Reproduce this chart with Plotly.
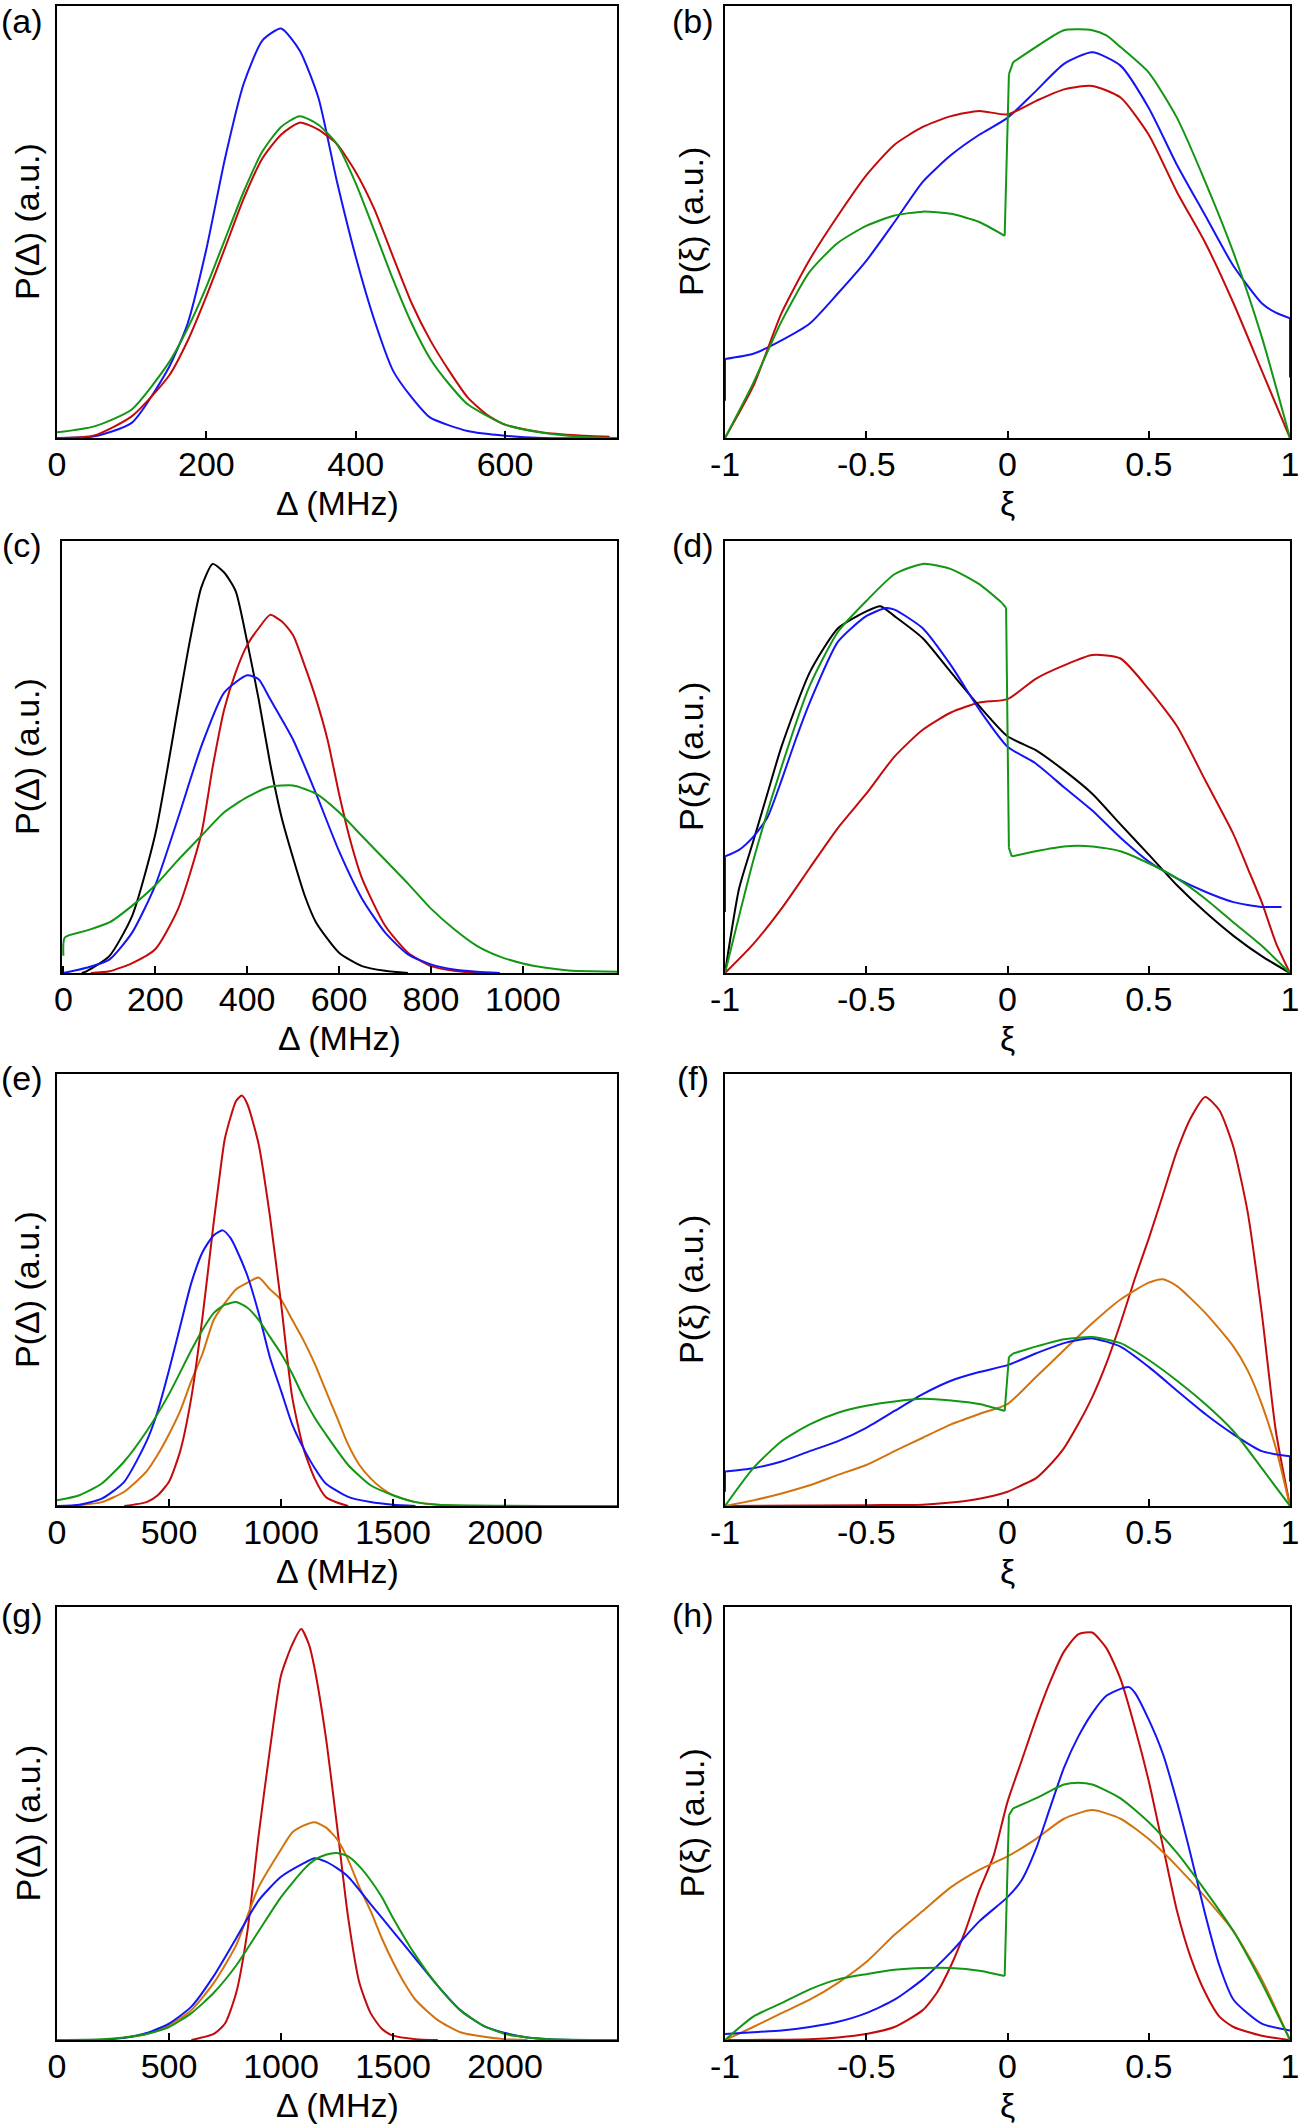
import plotly.graph_objects as go

# ---------------- data (y in arbitrary units, 1 = top of frame) ----------------
# (a) P(Delta)
a_blue_x = [0, 50, 100, 150, 175, 200, 225, 250, 275, 300, 325, 350, 375, 400, 425, 450, 475, 500, 550, 600, 650, 750]
a_blue_y = [0, 0.004, 0.035, 0.164, 0.265, 0.437, 0.647, 0.82, 0.92, 0.948, 0.897, 0.788, 0.593, 0.42, 0.273, 0.156, 0.094, 0.047, 0.016, 0.005, 0, 0]
a_red_x = [0, 50, 100, 150, 175, 200, 225, 250, 275, 300, 325, 350, 375, 400, 425, 450, 475, 500, 525, 550, 575, 600, 650, 700, 740]
a_red_y = [0, 0.006, 0.05, 0.144, 0.225, 0.328, 0.44, 0.554, 0.647, 0.702, 0.73, 0.714, 0.68, 0.616, 0.53, 0.42, 0.312, 0.226, 0.156, 0.094, 0.055, 0.031, 0.013, 0.006, 0.003]
a_green_x = [0, 50, 100, 150, 175, 200, 225, 250, 275, 300, 325, 350, 375, 400, 425, 450, 475, 500, 525, 550, 600, 650, 700, 750]
a_green_y = [0.013, 0.027, 0.066, 0.175, 0.254, 0.35, 0.46, 0.57, 0.663, 0.72, 0.745, 0.725, 0.68, 0.59, 0.48, 0.367, 0.265, 0.183, 0.125, 0.078, 0.031, 0.012, 0.003, 0]

# (b) P(xi)
b_blue_x = [-1, -1, -0.9, -0.8, -0.7, -0.6, -0.5, -0.4, -0.3, -0.2, -0.1, 0, 0.1, 0.2, 0.3, 0.4, 0.5, 0.6, 0.7, 0.8, 0.9, 0.95, 1, 1]
b_blue_y = [0.086, 0.183, 0.195, 0.226, 0.265, 0.335, 0.41, 0.5, 0.593, 0.655, 0.702, 0.741, 0.803, 0.866, 0.893, 0.862, 0.764, 0.632, 0.515, 0.398, 0.312, 0.29, 0.277, 0.14]
b_red_x = [-1, -0.9, -0.8, -0.7, -0.6, -0.5, -0.4, -0.3, -0.2, -0.1, 0, 0.1, 0.2, 0.3, 0.4, 0.5, 0.6, 0.7, 0.8, 0.9, 1]
b_red_y = [0, 0.12, 0.289, 0.413, 0.515, 0.608, 0.679, 0.72, 0.745, 0.757, 0.749, 0.78, 0.807, 0.815, 0.788, 0.702, 0.569, 0.452, 0.312, 0.156, 0]
b_green_x = [-1, -0.9, -0.8, -0.7, -0.6, -0.5, -0.4, -0.3, -0.2, -0.1, -0.01, 0.005, 0.02, 0.1, 0.2, 0.3, 0.35, 0.4, 0.5, 0.6, 0.7, 0.8, 0.9, 1]
b_green_y = [0, 0.127, 0.27, 0.385, 0.452, 0.491, 0.515, 0.524, 0.519, 0.5, 0.468, 0.842, 0.87, 0.905, 0.944, 0.944, 0.932, 0.905, 0.846, 0.741, 0.593, 0.429, 0.234, 0]

# (c) P(Delta)
c_black_x = [40, 50, 100, 150, 200, 250, 275, 300, 325, 350, 375, 400, 425, 450, 475, 500, 525, 550, 600, 650, 700, 750]
c_black_y = [0, 0.004, 0.039, 0.133, 0.321, 0.618, 0.767, 0.892, 0.947, 0.927, 0.884, 0.767, 0.634, 0.485, 0.36, 0.266, 0.18, 0.117, 0.047, 0.016, 0.005, 0]
c_red_x = [60, 100, 150, 200, 250, 300, 325, 350, 375, 400, 425, 450, 475, 500, 525, 550, 575, 600, 625, 650, 700, 750, 800, 850, 900]
c_red_y = [0, 0.004, 0.023, 0.055, 0.149, 0.321, 0.477, 0.61, 0.696, 0.759, 0.798, 0.829, 0.814, 0.782, 0.712, 0.634, 0.54, 0.415, 0.305, 0.219, 0.11, 0.047, 0.016, 0.005, 0]
c_blue_x = [0, 50, 100, 150, 200, 250, 300, 350, 400, 425, 450, 500, 550, 600, 650, 700, 750, 800, 850, 900, 950]
c_blue_y = [0, 0.012, 0.031, 0.094, 0.203, 0.36, 0.524, 0.649, 0.689, 0.68, 0.634, 0.54, 0.415, 0.282, 0.172, 0.094, 0.043, 0.02, 0.008, 0.003, 0]
c_green_x = [0, 3, 50, 100, 150, 200, 250, 300, 350, 400, 450, 500, 550, 600, 650, 700, 750, 800, 850, 900, 950, 1000, 1050, 1100, 1150, 1205]
c_green_y = [0.04, 0.082, 0.098, 0.117, 0.156, 0.203, 0.262, 0.317, 0.372, 0.407, 0.431, 0.434, 0.415, 0.372, 0.317, 0.262, 0.207, 0.149, 0.102, 0.063, 0.038, 0.022, 0.012, 0.006, 0.004, 0.003]

# (d) P(xi)
d_black_x = [-1, -0.95, -0.9, -0.85, -0.8, -0.7, -0.6, -0.5, -0.45, -0.4, -0.3, -0.2, -0.1, 0, 0.1, 0.2, 0.3, 0.4, 0.5, 0.6, 0.7, 0.8, 0.9, 1]
d_black_y = [0, 0.196, 0.305, 0.415, 0.524, 0.696, 0.798, 0.837, 0.849, 0.826, 0.775, 0.696, 0.618, 0.548, 0.516, 0.469, 0.415, 0.344, 0.274, 0.203, 0.141, 0.086, 0.039, 0]
d_red_x = [-1, -0.9, -0.8, -0.7, -0.6, -0.5, -0.4, -0.3, -0.2, -0.1, 0, 0.1, 0.2, 0.3, 0.4, 0.5, 0.6, 0.7, 0.8, 0.85, 0.9, 0.95, 1]
d_red_y = [0, 0.067, 0.149, 0.243, 0.336, 0.415, 0.501, 0.563, 0.603, 0.626, 0.634, 0.681, 0.712, 0.736, 0.728, 0.657, 0.571, 0.446, 0.321, 0.243, 0.164, 0.07, 0]
d_blue_x = [-1, -1, -0.95, -0.9, -0.85, -0.8, -0.75, -0.7, -0.6, -0.5, -0.43, -0.4, -0.3, -0.2, -0.1, 0, 0.1, 0.2, 0.3, 0.4, 0.5, 0.6, 0.7, 0.8, 0.9, 0.97]
d_blue_y = [0.141, 0.27, 0.285, 0.315, 0.36, 0.446, 0.54, 0.626, 0.767, 0.826, 0.845, 0.841, 0.798, 0.712, 0.61, 0.524, 0.485, 0.43, 0.376, 0.313, 0.258, 0.219, 0.188, 0.164, 0.153, 0.153]
d_green_x = [-1, -0.9, -0.8, -0.7, -0.6, -0.5, -0.4, -0.3, -0.2, -0.1, -0.02, -0.005, 0.005, 0.015, 0.1, 0.2, 0.3, 0.4, 0.5, 0.6, 0.7, 0.8, 0.9, 1]
d_green_y = [0, 0.26, 0.477, 0.665, 0.79, 0.861, 0.923, 0.947, 0.935, 0.9, 0.857, 0.845, 0.29, 0.27, 0.282, 0.293, 0.293, 0.282, 0.254, 0.219, 0.172, 0.117, 0.063, 0]

# (e) P(Delta)
e_red_x = [300, 400, 450, 500, 550, 600, 650, 700, 725, 750, 800, 825, 850, 900, 950, 1000, 1050, 1100, 1150, 1200, 1250, 1300]
e_red_y = [0, 0.009, 0.025, 0.056, 0.127, 0.252, 0.439, 0.658, 0.76, 0.852, 0.938, 0.95, 0.93, 0.838, 0.673, 0.47, 0.252, 0.134, 0.064, 0.021, 0.008, 0]
e_blue_x = [0, 100, 200, 300, 400, 450, 500, 550, 600, 650, 700, 740, 775, 800, 850, 900, 950, 1000, 1050, 1100, 1150, 1200, 1300, 1400, 1500, 1600]
e_blue_y = [0, 0.003, 0.017, 0.056, 0.15, 0.22, 0.314, 0.416, 0.517, 0.588, 0.627, 0.638, 0.62, 0.595, 0.533, 0.447, 0.345, 0.267, 0.189, 0.134, 0.088, 0.052, 0.021, 0.009, 0.003, 0]
e_orange_x = [100, 200, 300, 400, 450, 500, 550, 600, 650, 700, 750, 800, 850, 900, 950, 1000, 1050, 1100, 1150, 1200, 1250, 1300, 1350, 1400, 1450, 1500, 1600, 1700, 1800]
e_orange_y = [0.002, 0.009, 0.033, 0.08, 0.119, 0.166, 0.22, 0.29, 0.353, 0.431, 0.47, 0.502, 0.517, 0.529, 0.502, 0.478, 0.431, 0.384, 0.33, 0.267, 0.205, 0.142, 0.095, 0.064, 0.041, 0.025, 0.009, 0.003, 0]
e_green_x = [0, 100, 200, 300, 400, 500, 600, 650, 700, 750, 800, 850, 900, 950, 1000, 1050, 1100, 1150, 1200, 1300, 1400, 1500, 1600, 1700, 2500]
e_green_y = [0.013, 0.025, 0.052, 0.103, 0.173, 0.259, 0.361, 0.408, 0.447, 0.466, 0.472, 0.459, 0.431, 0.392, 0.353, 0.306, 0.252, 0.205, 0.166, 0.095, 0.048, 0.025, 0.009, 0.003, 0]

# (f) P(xi)
f_red_x = [-1, -0.5, -0.3, -0.2, -0.1, 0, 0.05, 0.1, 0.15, 0.2, 0.25, 0.3, 0.35, 0.4, 0.45, 0.5, 0.55, 0.6, 0.65, 0.7, 0.75, 0.8, 0.85, 0.9, 0.95, 1]
f_red_y = [0, 0.002, 0.003, 0.008, 0.017, 0.033, 0.048, 0.064, 0.095, 0.134, 0.189, 0.252, 0.33, 0.423, 0.525, 0.619, 0.72, 0.822, 0.9, 0.947, 0.916, 0.83, 0.681, 0.447, 0.173, 0]
f_orange_x = [-1, -0.9, -0.8, -0.7, -0.6, -0.5, -0.4, -0.3, -0.2, -0.1, 0, 0.1, 0.2, 0.3, 0.4, 0.5, 0.55, 0.6, 0.7, 0.8, 0.85, 0.9, 0.95, 1]
f_orange_y = [0, 0.013, 0.029, 0.048, 0.072, 0.095, 0.127, 0.158, 0.189, 0.213, 0.236, 0.298, 0.361, 0.423, 0.478, 0.517, 0.525, 0.509, 0.447, 0.369, 0.314, 0.236, 0.134, 0]
f_blue_x = [-1, -1, -0.9, -0.8, -0.7, -0.6, -0.5, -0.4, -0.3, -0.2, -0.1, 0, 0.1, 0.2, 0.3, 0.4, 0.5, 0.6, 0.7, 0.8, 0.9, 1, 1]
f_blue_y = [0.033, 0.08, 0.0875, 0.103, 0.127, 0.15, 0.181, 0.22, 0.259, 0.29, 0.31, 0.326, 0.353, 0.377, 0.388, 0.369, 0.322, 0.267, 0.213, 0.166, 0.127, 0.115, 0.056]
f_green_x = [-1, -0.9, -0.8, -0.7, -0.6, -0.5, -0.4, -0.3, -0.2, -0.1, -0.01, 0.005, 0.02, 0.1, 0.2, 0.3, 0.4, 0.5, 0.6, 0.7, 0.8, 0.9, 1]
f_green_y = [0, 0.0875, 0.15, 0.189, 0.216, 0.232, 0.242, 0.248, 0.244, 0.236, 0.22, 0.345, 0.353, 0.369, 0.386, 0.391, 0.377, 0.338, 0.29, 0.236, 0.173, 0.0875, 0]

# (g) P(Delta)
g_red_x = [600, 700, 750, 800, 850, 900, 950, 1000, 1050, 1090, 1125, 1150, 1200, 1250, 1300, 1350, 1400, 1450, 1500, 1600, 1700]
g_red_y = [0, 0.014, 0.038, 0.109, 0.251, 0.472, 0.669, 0.842, 0.913, 0.949, 0.913, 0.858, 0.7, 0.495, 0.282, 0.132, 0.062, 0.026, 0.01, 0.002, 0]
g_orange_x = [300, 400, 500, 600, 700, 800, 900, 1000, 1050, 1100, 1150, 1200, 1250, 1300, 1350, 1400, 1450, 1500, 1550, 1600, 1700, 1800, 1900, 2000, 2100]
g_orange_y = [0.005, 0.014, 0.034, 0.069, 0.132, 0.219, 0.353, 0.44, 0.479, 0.495, 0.503, 0.491, 0.464, 0.416, 0.353, 0.298, 0.235, 0.18, 0.132, 0.093, 0.046, 0.018, 0.008, 0.002, 0]
g_blue_x = [200, 300, 400, 500, 600, 700, 800, 900, 1000, 1100, 1150, 1200, 1250, 1300, 1400, 1500, 1600, 1700, 1800, 1900, 2000, 2100, 2200, 2300]
g_blue_y = [0, 0.005, 0.016, 0.038, 0.077, 0.148, 0.235, 0.322, 0.377, 0.408, 0.42, 0.412, 0.397, 0.377, 0.314, 0.251, 0.188, 0.125, 0.069, 0.034, 0.016, 0.006, 0.002, 0]
g_green_x = [0, 200, 300, 400, 500, 600, 700, 800, 900, 1000, 1100, 1150, 1200, 1250, 1300, 1350, 1400, 1450, 1500, 1600, 1700, 1800, 1900, 2000, 2100, 2200, 2500]
g_green_y = [0, 0.002, 0.006, 0.014, 0.03, 0.062, 0.109, 0.172, 0.251, 0.33, 0.393, 0.416, 0.428, 0.432, 0.424, 0.401, 0.369, 0.33, 0.282, 0.196, 0.125, 0.069, 0.034, 0.014, 0.006, 0.002, 0]

# (h) P(xi)
h_red_x = [-1, -0.7, -0.6, -0.5, -0.4, -0.3, -0.25, -0.2, -0.15, -0.1, -0.05, 0, 0.05, 0.1, 0.15, 0.2, 0.25, 0.3, 0.35, 0.4, 0.45, 0.5, 0.55, 0.6, 0.65, 0.7, 0.75, 0.8, 0.9, 1]
h_red_y = [0, 0.002, 0.006, 0.014, 0.03, 0.069, 0.109, 0.172, 0.251, 0.345, 0.424, 0.55, 0.645, 0.74, 0.826, 0.897, 0.937, 0.941, 0.905, 0.834, 0.724, 0.598, 0.448, 0.298, 0.188, 0.109, 0.054, 0.03, 0.01, 0]
h_blue_x = [-1, -0.9, -0.8, -0.7, -0.6, -0.5, -0.4, -0.3, -0.2, -0.1, 0, 0.05, 0.1, 0.15, 0.2, 0.25, 0.3, 0.35, 0.4, 0.43, 0.45, 0.5, 0.55, 0.6, 0.65, 0.7, 0.75, 0.8, 0.9, 1]
h_blue_y = [0.014, 0.018, 0.022, 0.03, 0.042, 0.062, 0.093, 0.14, 0.203, 0.274, 0.33, 0.369, 0.44, 0.535, 0.629, 0.7, 0.755, 0.795, 0.811, 0.815, 0.803, 0.74, 0.661, 0.55, 0.424, 0.29, 0.172, 0.093, 0.038, 0.022]
h_orange_x = [-1, -0.9, -0.8, -0.7, -0.6, -0.5, -0.4, -0.3, -0.2, -0.1, 0, 0.1, 0.2, 0.3, 0.4, 0.5, 0.6, 0.7, 0.8, 0.9, 1]
h_orange_y = [0, 0.03, 0.062, 0.093, 0.132, 0.18, 0.243, 0.298, 0.353, 0.393, 0.424, 0.464, 0.511, 0.531, 0.511, 0.464, 0.401, 0.33, 0.251, 0.14, 0]
h_green_x = [-1, -0.9, -0.8, -0.7, -0.6, -0.5, -0.4, -0.3, -0.2, -0.1, -0.01, 0.005, 0.02, 0.1, 0.2, 0.25, 0.3, 0.4, 0.5, 0.6, 0.7, 0.8, 0.9, 1]
h_green_y = [0, 0.054, 0.085, 0.117, 0.14, 0.152, 0.162, 0.166, 0.166, 0.16, 0.148, 0.519, 0.535, 0.558, 0.59, 0.594, 0.59, 0.558, 0.503, 0.432, 0.345, 0.251, 0.132, 0]

# tick labels
delta_ticks_a = [0, 200, 400, 600]
delta_ticks_c = [0, 200, 400, 600, 800, 1000]
delta_ticks_eg = [0, 500, 1000, 1500, 2000]
xi_tickvals = [-1, -0.5, 0, 0.5, 1]
xi_ticktext = ["-1", "-0.5", "0", "0.5", "1"]
panel_labels = ["(a)", "(b)", "(c)", "(d)", "(e)", "(f)", "(g)", "(h)"]

# ---------------- styling ----------------
BLUE = "#1414f5"
RED = "#c40a0a"
GREEN = "#139613"
ORANGE = "#d2730f"
BLACK = "#000000"
FONT = "Liberation Sans, Arial, sans-serif"
FS = 34
W, H = 1305, 2126

# frame boxes in pixels: (left, right, top, bottom)
col1 = (57, 617)
col2 = (725, 1290)
rows = [(6, 438), (541, 973), (1074, 1506), (1607, 2040)]
label_y = [21, 545, 1078, 1615]

panels = [
    ([(a_blue_x, a_blue_y, BLUE), (a_red_x, a_red_y, RED), (a_green_x, a_green_y, GREEN)],
     [0, 750], delta_ticks_a, [str(v) for v in delta_ticks_a], "Δ (MHz)", "P(Δ) (a.u.)"),
    ([(b_blue_x, b_blue_y, BLUE), (b_red_x, b_red_y, RED), (b_green_x, b_green_y, GREEN)],
     [-1, 1], xi_tickvals, xi_ticktext, "ξ", "P(ξ) (a.u.)"),
    ([(c_black_x, c_black_y, BLACK), (c_red_x, c_red_y, RED), (c_blue_x, c_blue_y, BLUE), (c_green_x, c_green_y, GREEN)],
     [-3, 1205], delta_ticks_c, [str(v) for v in delta_ticks_c], "Δ (MHz)", "P(Δ) (a.u.)"),
    ([(d_red_x, d_red_y, RED), (d_black_x, d_black_y, BLACK), (d_blue_x, d_blue_y, BLUE), (d_green_x, d_green_y, GREEN)],
     [-1, 1], xi_tickvals, xi_ticktext, "ξ", "P(ξ) (a.u.)"),
    ([(e_orange_x, e_orange_y, ORANGE), (e_red_x, e_red_y, RED), (e_blue_x, e_blue_y, BLUE), (e_green_x, e_green_y, GREEN)],
     [0, 2500], delta_ticks_eg, [str(v) for v in delta_ticks_eg], "Δ (MHz)", "P(Δ) (a.u.)"),
    ([(f_red_x, f_red_y, RED), (f_orange_x, f_orange_y, ORANGE), (f_blue_x, f_blue_y, BLUE), (f_green_x, f_green_y, GREEN)],
     [-1, 1], xi_tickvals, xi_ticktext, "ξ", "P(ξ) (a.u.)"),
    ([(g_red_x, g_red_y, RED), (g_orange_x, g_orange_y, ORANGE), (g_blue_x, g_blue_y, BLUE), (g_green_x, g_green_y, GREEN)],
     [0, 2500], delta_ticks_eg, [str(v) for v in delta_ticks_eg], "Δ (MHz)", "P(Δ) (a.u.)"),
    ([(h_red_x, h_red_y, RED), (h_orange_x, h_orange_y, ORANGE), (h_blue_x, h_blue_y, BLUE), (h_green_x, h_green_y, GREEN)],
     [-1, 1], xi_tickvals, xi_ticktext, "ξ", "P(ξ) (a.u.)"),
]


def pieces(xs, ys, span):
    """Split a curve into smooth pieces (spline) and abrupt jumps (straight connectors)."""
    thr = 0.016 * span / 2.0
    out = []
    start = 0
    for k in range(len(xs) - 1):
        if xs[k + 1] - xs[k] <= thr:
            if k - start >= 1:
                out.append(("spline", xs[start:k + 1], ys[start:k + 1]))
            out.append(("linear", xs[k:k + 2], ys[k:k + 2]))
            start = k + 1
    if len(xs) - start >= 2:
        out.append(("spline", xs[start:], ys[start:]))
    return out


fig = go.Figure()
annotations = []
layout = dict(
    template="none",
    width=W, height=H, margin=dict(l=0, r=0, t=0, b=0, pad=0, autoexpand=False),
    paper_bgcolor="white", plot_bgcolor="white", showlegend=False,
    font=dict(family=FONT, size=FS, color="black"),
)

for i, (traces, xr, tv, tt, xtitle, ytitle) in enumerate(panels):
    r, c = divmod(i, 2)
    left, right = col1 if c == 0 else col2
    if i == 2:
        left = 62
    top, bottom = rows[r]
    n = i + 1
    xa = "x" if n == 1 else f"x{n}"
    ya = "y" if n == 1 else f"y{n}"
    span = xr[1] - xr[0] if xr == [-1, 1] else 0
    for (xs, ys, col) in traces:
        parts = pieces(xs, ys, span) if span else [("spline", xs, ys)]
        for shape, px, py in parts:
            fig.add_trace(go.Scatter(x=px, y=py, mode="lines",
                                     line=dict(color=col, width=2, shape=shape, smoothing=0.6),
                                     xaxis=xa, yaxis=ya, hoverinfo="skip", cliponaxis=True))
    layout[f"xaxis{n}" if n > 1 else "xaxis"] = dict(
        domain=[left / W, right / W], anchor=ya, range=xr, automargin=False,
        tickmode="array", tickvals=tv, ticktext=tt,
        ticks="inside", ticklen=7, tickwidth=2, tickcolor="black",
        showline=True, linecolor="black", linewidth=2, mirror=True,
        showgrid=False, zeroline=False,
        tickfont=dict(family=FONT, size=FS, color="black"),
        ticklabelstandoff=-5,
    )
    layout[f"yaxis{n}" if n > 1 else "yaxis"] = dict(
        domain=[1 - bottom / H, 1 - top / H], anchor=xa, range=[0, 1], automargin=False,
        showticklabels=False, ticks="",
        showline=True, linecolor="black", linewidth=2, mirror=True,
        showgrid=False, zeroline=False,
    )
    annotations.append(dict(
        text=xtitle, x=(left + right) / 2 / W, y=1 - (bottom + 65) / H,
        xref="paper", yref="paper", xanchor="center", yanchor="middle",
        showarrow=False, font=dict(family=FONT, size=FS, color="black")))
    ytx = 27 if c == 0 else 691
    annotations.append(dict(
        text=ytitle, x=ytx / W, y=1 - (top + bottom) / 2 / H,
        xref="paper", yref="paper", xanchor="center", yanchor="middle",
        textangle=-90, showarrow=False, font=dict(family=FONT, size=FS, color="black")))
    lx = 22 if c == 0 else 693
    annotations.append(dict(
        text=panel_labels[i], x=lx / W, y=1 - label_y[r] / H,
        xref="paper", yref="paper", xanchor="center", yanchor="middle",
        showarrow=False, font=dict(family=FONT, size=FS, color="black")))

layout["annotations"] = annotations
fig.update_layout(**layout)
fig.write_html(
    "out.html",
    config={"displayModeBar": False},
    post_script="document.body.style.margin='0px';document.body.style.padding='0px';"
                "document.body.style.overflow='hidden';"
                "document.documentElement.style.overflow='hidden';",
)
